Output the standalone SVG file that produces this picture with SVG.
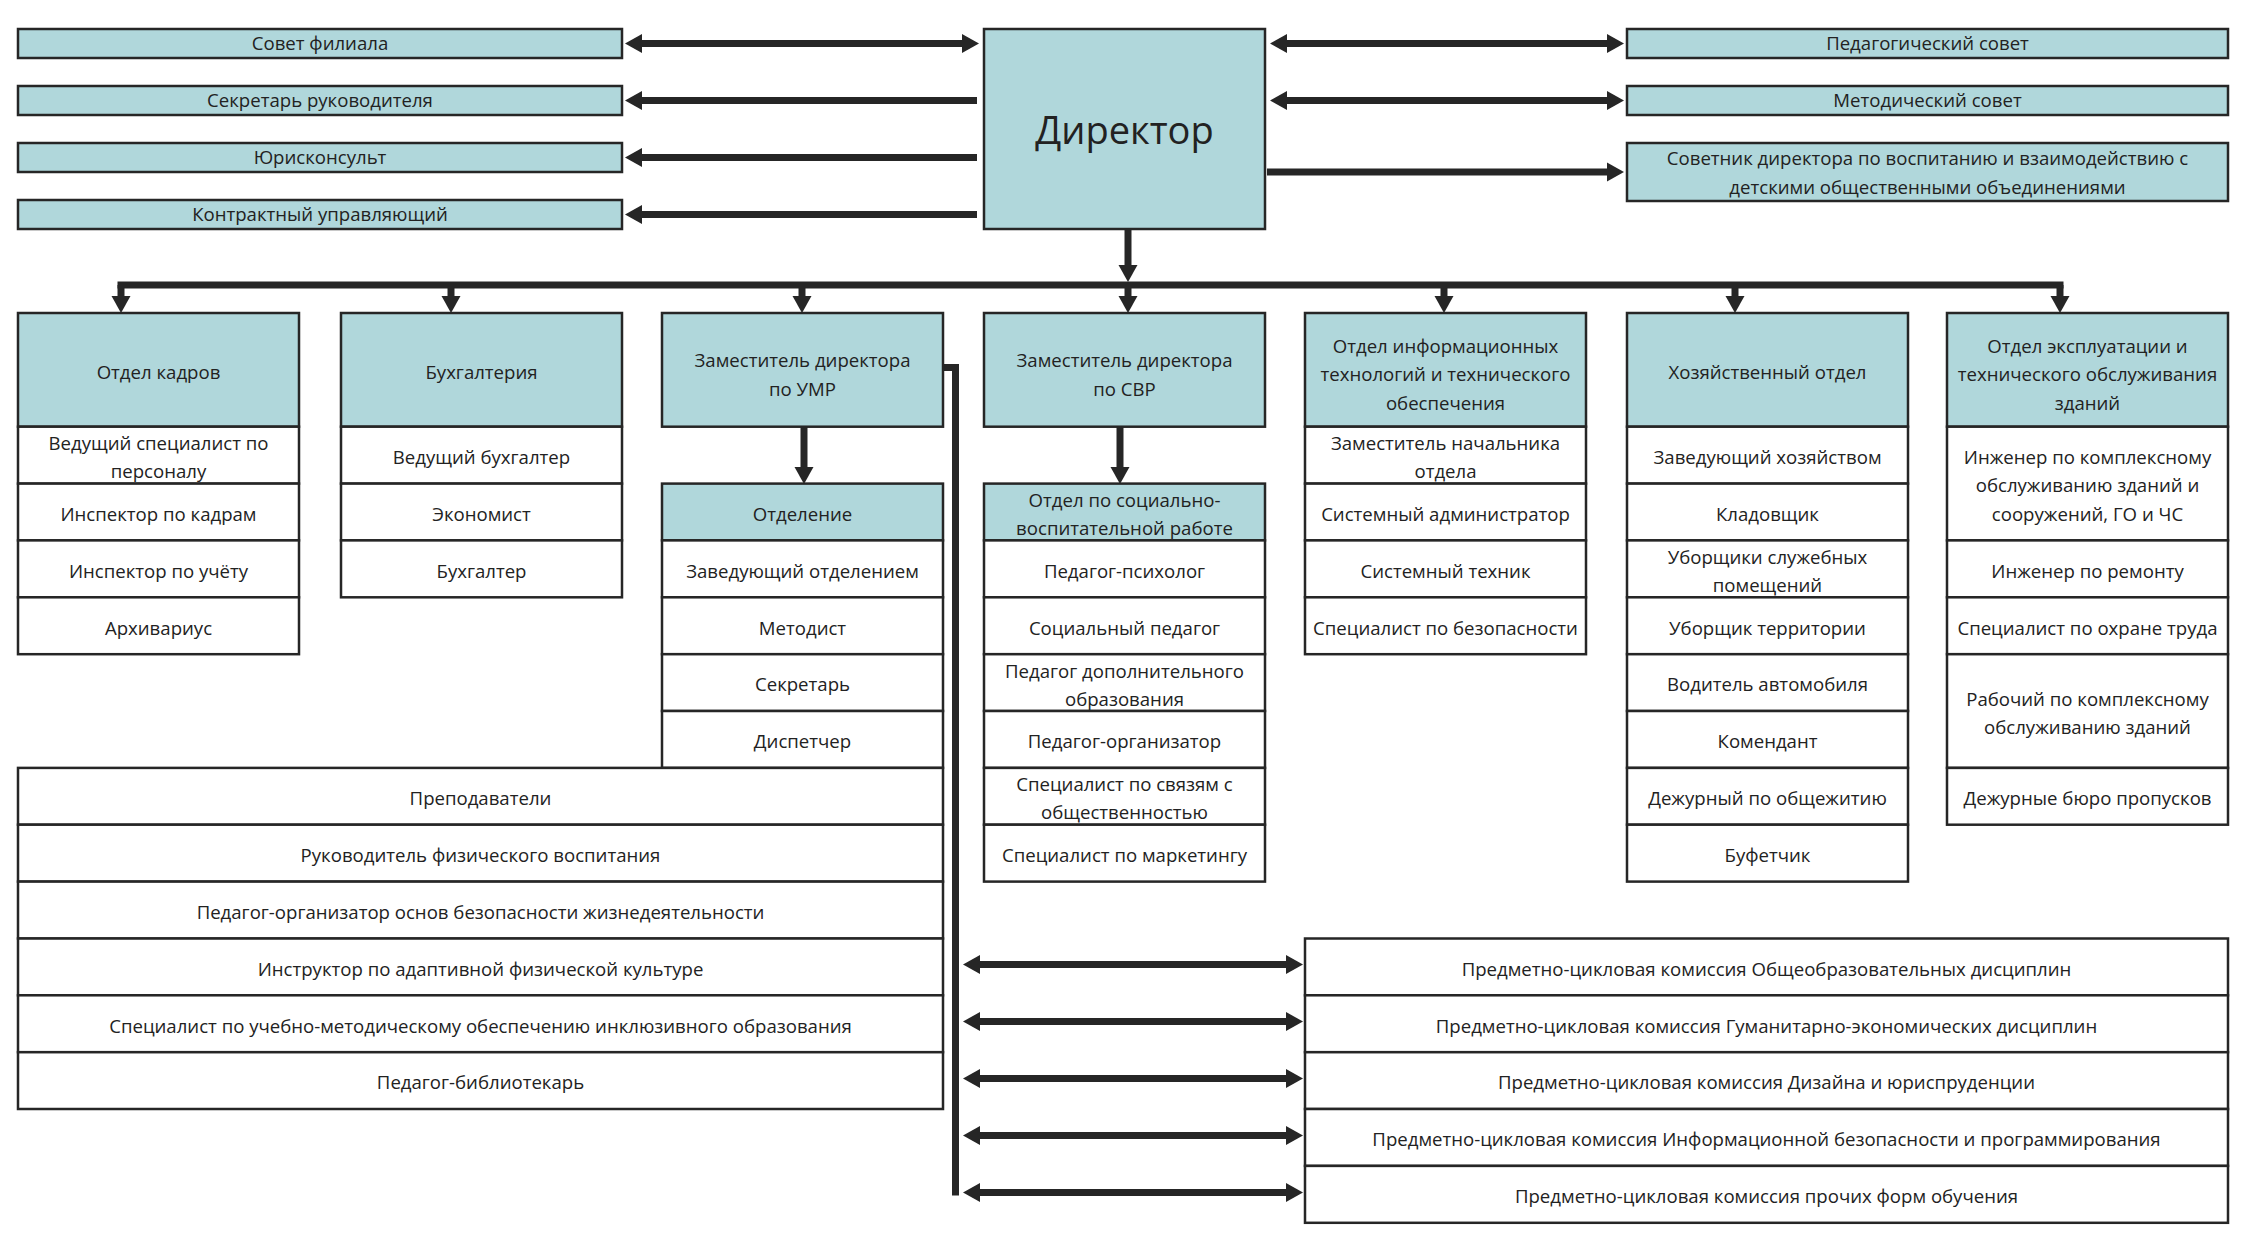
<svg xmlns="http://www.w3.org/2000/svg" width="2250" height="1248" viewBox="0 0 2250 1248">
<style>
.b{fill:#ffffff;stroke:#262626;stroke-width:2.5}
.h{fill:#b0d7db;stroke:#262626;stroke-width:2.5}
.t{font-family:"Open Sans","Liberation Sans",sans-serif;font-size:18.6px;fill:#222;text-anchor:middle}
.big{font-size:38px}
.c{stroke:#262626;stroke-width:7;fill:none}
</style>
<defs>
<marker id="ah" markerUnits="userSpaceOnUse" markerWidth="18" markerHeight="20" viewBox="0 -10 18 20" refX="0" refY="0" orient="auto-start-reverse">
<path d="M0,-9.5 L17,0 L0,9.5 Z" fill="#262626"/>
</marker>
</defs>
<rect width="2250" height="1248" fill="#ffffff"/>

<g id="connectors">
<line class="c" x1="642" y1="43.5" x2="962" y2="43.5" marker-start="url(#ah)" marker-end="url(#ah)"/>
<line class="c" x1="977" y1="100.5" x2="642" y2="100.5" marker-end="url(#ah)"/>
<line class="c" x1="977" y1="157.5" x2="642" y2="157.5" marker-end="url(#ah)"/>
<line class="c" x1="977" y1="214.5" x2="642" y2="214.5" marker-end="url(#ah)"/>
<line class="c" x1="1287" y1="43.5" x2="1607" y2="43.5" marker-start="url(#ah)" marker-end="url(#ah)"/>
<line class="c" x1="1287" y1="100.5" x2="1607" y2="100.5" marker-start="url(#ah)" marker-end="url(#ah)"/>
<line class="c" x1="1267" y1="172" x2="1607" y2="172" marker-end="url(#ah)"/>
<line class="c" x1="1128" y1="229" x2="1128" y2="265" marker-end="url(#ah)"/>
<line class="c" x1="117.5" y1="285" x2="2063.5" y2="285"/>
<line class="c" x1="121" y1="285" x2="121" y2="296" marker-end="url(#ah)"/>
<line class="c" x1="451" y1="285" x2="451" y2="296" marker-end="url(#ah)"/>
<line class="c" x1="802" y1="285" x2="802" y2="296" marker-end="url(#ah)"/>
<line class="c" x1="1128" y1="285" x2="1128" y2="296" marker-end="url(#ah)"/>
<line class="c" x1="1444" y1="285" x2="1444" y2="296" marker-end="url(#ah)"/>
<line class="c" x1="1735" y1="285" x2="1735" y2="296" marker-end="url(#ah)"/>
<line class="c" x1="2060" y1="285" x2="2060" y2="296" marker-end="url(#ah)"/>
<line class="c" x1="804" y1="427" x2="804" y2="467" marker-end="url(#ah)"/>
<line class="c" x1="1120" y1="427" x2="1120" y2="467" marker-end="url(#ah)"/>
<path class="c" d="M943,367.5 H955.5 V1195.5"/>
<line class="c" x1="980" y1="964.5" x2="1286" y2="964.5" marker-start="url(#ah)" marker-end="url(#ah)"/>
<line class="c" x1="980" y1="1021.5" x2="1286" y2="1021.5" marker-start="url(#ah)" marker-end="url(#ah)"/>
<line class="c" x1="980" y1="1078.5" x2="1286" y2="1078.5" marker-start="url(#ah)" marker-end="url(#ah)"/>
<line class="c" x1="980" y1="1135.5" x2="1286" y2="1135.5" marker-start="url(#ah)" marker-end="url(#ah)"/>
<line class="c" x1="980" y1="1192.5" x2="1286" y2="1192.5" marker-start="url(#ah)" marker-end="url(#ah)"/>
</g>

<!-- top left -->
<g id="sovet-filiala"><rect class="h" x="18" y="29" width="604" height="29"/><text class="t" x="320" y="50">Совет филиала</text></g>
<g id="sekretar-ruk"><rect class="h" x="18" y="86" width="604" height="29"/><text class="t" x="320" y="107">Секретарь руководителя</text></g>
<g id="yuriskonsult"><rect class="h" x="18" y="143" width="604" height="29"/><text class="t" x="320" y="164">Юрисконсульт</text></g>
<g id="kontraktny"><rect class="h" x="18" y="200" width="604" height="29"/><text class="t" x="320" y="221">Контрактный управляющий</text></g>

<g id="direktor"><rect class="h" x="984" y="29" width="281" height="200"/><text class="t big" x="1124.5" y="144">Директор</text></g>

<!-- top right -->
<g id="ped-sovet"><rect class="h" x="1627" y="29" width="601" height="29"/><text class="t" x="1927.5" y="50">Педагогический совет</text></g>
<g id="met-sovet"><rect class="h" x="1627" y="86" width="601" height="29"/><text class="t" x="1927.5" y="107">Методический совет</text></g>
<g id="sovetnik"><rect class="h" x="1627" y="143" width="601" height="58"/><text class="t" x="1927.5" y="165">Советник директора по воспитанию и взаимодействию с</text><text class="t" x="1927.5" y="194">детскими общественными объединениями</text></g>

<!-- column 1 -->
<g id="otdel-kadrov"><rect class="h" x="18" y="313" width="281" height="113.7"/><text class="t" x="158.5" y="378.5">Отдел кадров</text></g>
<g id="k1"><rect class="b" x="18" y="426.7" width="281" height="56.9"/><text class="t" x="158.5" y="449.5">Ведущий специалист по</text><text class="t" x="158.5" y="477.5">персоналу</text></g>
<g id="k2"><rect class="b" x="18" y="483.6" width="281" height="56.8"/><text class="t" x="158.5" y="520.5">Инспектор по кадрам</text></g>
<g id="k3"><rect class="b" x="18" y="540.4" width="281" height="56.9"/><text class="t" x="158.5" y="577.5">Инспектор по учёту</text></g>
<g id="k4"><rect class="b" x="18" y="597.3" width="281" height="56.9"/><text class="t" x="158.5" y="634.5">Архивариус</text></g>

<!-- column 2 -->
<g id="buhgalteriya"><rect class="h" x="341" y="313" width="281" height="113.7"/><text class="t" x="481.5" y="378.5">Бухгалтерия</text></g>
<g id="b1"><rect class="b" x="341" y="426.7" width="281" height="56.9"/><text class="t" x="481.5" y="463.5">Ведущий бухгалтер</text></g>
<g id="b2"><rect class="b" x="341" y="483.6" width="281" height="56.8"/><text class="t" x="481.5" y="520.5">Экономист</text></g>
<g id="b3"><rect class="b" x="341" y="540.4" width="281" height="56.9"/><text class="t" x="481.5" y="577.5">Бухгалтер</text></g>

<!-- column 3 -->
<g id="zam-umr"><rect class="h" x="662" y="313" width="281" height="113.7"/><text class="t" x="802.5" y="366.5">Заместитель директора</text><text class="t" x="802.5" y="395.5">по УМР</text></g>
<g id="otdelenie"><rect class="h" x="662" y="483.6" width="281" height="56.8"/><text class="t" x="802.5" y="520.5">Отделение</text></g>
<g id="u1"><rect class="b" x="662" y="540.4" width="281" height="56.9"/><text class="t" x="802.5" y="577.5">Заведующий отделением</text></g>
<g id="u2"><rect class="b" x="662" y="597.3" width="281" height="56.9"/><text class="t" x="802.5" y="634.5">Методист</text></g>
<g id="u3"><rect class="b" x="662" y="654.2" width="281" height="56.8"/><text class="t" x="802.5" y="691">Секретарь</text></g>
<g id="u4"><rect class="b" x="662" y="711" width="281" height="56.9"/><text class="t" x="802.5" y="748">Диспетчер</text></g>
<g id="w1"><rect class="b" x="18" y="767.9" width="925" height="56.8"/><text class="t" x="480.5" y="804.5">Преподаватели</text></g>
<g id="w2"><rect class="b" x="18" y="824.7" width="925" height="56.9"/><text class="t" x="480.5" y="861.5">Руководитель физического воспитания</text></g>
<g id="w3"><rect class="b" x="18" y="881.6" width="925" height="56.9"/><text class="t" x="480.5" y="918.5">Педагог-организатор основ безопасности жизнедеятельности</text></g>
<g id="w4"><rect class="b" x="18" y="938.5" width="925" height="56.8"/><text class="t" x="480.5" y="975.5">Инструктор по адаптивной физической культуре</text></g>
<g id="w5"><rect class="b" x="18" y="995.3" width="925" height="56.9"/><text class="t" x="480.5" y="1032.5">Специалист по учебно-методическому обеспечению инклюзивного образования</text></g>
<g id="w6"><rect class="b" x="18" y="1052.2" width="925" height="56.8"/><text class="t" x="480.5" y="1089">Педагог-библиотекарь</text></g>

<!-- column 4 -->
<g id="zam-svr"><rect class="h" x="984" y="313" width="281" height="113.7"/><text class="t" x="1124.5" y="366.5">Заместитель директора</text><text class="t" x="1124.5" y="395.5">по СВР</text></g>
<g id="otdel-svr"><rect class="h" x="984" y="483.6" width="281" height="56.8"/><text class="t" x="1124.5" y="506.5">Отдел по социально-</text><text class="t" x="1124.5" y="534.5">воспитательной работе</text></g>
<g id="s1"><rect class="b" x="984" y="540.4" width="281" height="56.9"/><text class="t" x="1124.5" y="577.5">Педагог-психолог</text></g>
<g id="s2"><rect class="b" x="984" y="597.3" width="281" height="56.9"/><text class="t" x="1124.5" y="634.5">Социальный педагог</text></g>
<g id="s3"><rect class="b" x="984" y="654.2" width="281" height="56.8"/><text class="t" x="1124.5" y="677.5">Педагог дополнительного</text><text class="t" x="1124.5" y="705.5">образования</text></g>
<g id="s4"><rect class="b" x="984" y="711" width="281" height="56.9"/><text class="t" x="1124.5" y="748">Педагог-организатор</text></g>
<g id="s5"><rect class="b" x="984" y="767.9" width="281" height="56.8"/><text class="t" x="1124.5" y="790.5">Специалист по связям с</text><text class="t" x="1124.5" y="818.5">общественностью</text></g>
<g id="s6"><rect class="b" x="984" y="824.7" width="281" height="56.9"/><text class="t" x="1124.5" y="861.5">Специалист по маркетингу</text></g>

<!-- column 5 -->
<g id="otdel-it"><rect class="h" x="1305" y="313" width="281" height="113.7"/><text class="t" x="1445.5" y="352.5">Отдел информационных</text><text class="t" x="1445.5" y="381">технологий и технического</text><text class="t" x="1445.5" y="409.5">обеспечения</text></g>
<g id="i1"><rect class="b" x="1305" y="426.7" width="281" height="56.9"/><text class="t" x="1445.5" y="449.5">Заместитель начальника</text><text class="t" x="1445.5" y="477.5">отдела</text></g>
<g id="i2"><rect class="b" x="1305" y="483.6" width="281" height="56.8"/><text class="t" x="1445.5" y="520.5">Системный администратор</text></g>
<g id="i3"><rect class="b" x="1305" y="540.4" width="281" height="56.9"/><text class="t" x="1445.5" y="577.5">Системный техник</text></g>
<g id="i4"><rect class="b" x="1305" y="597.3" width="281" height="56.9"/><text class="t" x="1445.5" y="634.5">Специалист по безопасности</text></g>

<!-- column 6 -->
<g id="hoz-otdel"><rect class="h" x="1627" y="313" width="281" height="113.7"/><text class="t" x="1767.5" y="378.5">Хозяйственный отдел</text></g>
<g id="h1"><rect class="b" x="1627" y="426.7" width="281" height="56.9"/><text class="t" x="1767.5" y="463.5">Заведующий хозяйством</text></g>
<g id="h2"><rect class="b" x="1627" y="483.6" width="281" height="56.8"/><text class="t" x="1767.5" y="520.5">Кладовщик</text></g>
<g id="h3"><rect class="b" x="1627" y="540.4" width="281" height="56.9"/><text class="t" x="1767.5" y="563.5">Уборщики служебных</text><text class="t" x="1767.5" y="591.5">помещений</text></g>
<g id="h4"><rect class="b" x="1627" y="597.3" width="281" height="56.9"/><text class="t" x="1767.5" y="634.5">Уборщик территории</text></g>
<g id="h5"><rect class="b" x="1627" y="654.2" width="281" height="56.8"/><text class="t" x="1767.5" y="691">Водитель автомобиля</text></g>
<g id="h6"><rect class="b" x="1627" y="711" width="281" height="56.9"/><text class="t" x="1767.5" y="748">Комендант</text></g>
<g id="h7"><rect class="b" x="1627" y="767.9" width="281" height="56.8"/><text class="t" x="1767.5" y="804.5">Дежурный по общежитию</text></g>
<g id="h8"><rect class="b" x="1627" y="824.7" width="281" height="56.9"/><text class="t" x="1767.5" y="861.5">Буфетчик</text></g>

<!-- column 7 -->
<g id="otdel-expl"><rect class="h" x="1947" y="313" width="281" height="113.7"/><text class="t" x="2087.5" y="352.5">Отдел эксплуатации и</text><text class="t" x="2087.5" y="381">технического обслуживания</text><text class="t" x="2087.5" y="409.5">зданий</text></g>
<g id="e1"><rect class="b" x="1947" y="426.7" width="281" height="113.7"/><text class="t" x="2087.5" y="463.5">Инженер по комплексному</text><text class="t" x="2087.5" y="492">обслуживанию зданий и</text><text class="t" x="2087.5" y="520.5">сооружений, ГО и ЧС</text></g>
<g id="e2"><rect class="b" x="1947" y="540.4" width="281" height="56.9"/><text class="t" x="2087.5" y="577.5">Инженер по ремонту</text></g>
<g id="e3"><rect class="b" x="1947" y="597.3" width="281" height="56.9"/><text class="t" x="2087.5" y="634.5">Специалист по охране труда</text></g>
<g id="e4"><rect class="b" x="1947" y="654.2" width="281" height="113.7"/><text class="t" x="2087.5" y="705.5">Рабочий по комплексному</text><text class="t" x="2087.5" y="733.5">обслуживанию зданий</text></g>
<g id="e5"><rect class="b" x="1947" y="767.9" width="281" height="56.8"/><text class="t" x="2087.5" y="804.5">Дежурные бюро пропусков</text></g>

<!-- commissions -->
<g id="pck1"><rect class="b" x="1305" y="938.5" width="923" height="56.8"/><text class="t" x="1766.5" y="975.5">Предметно-цикловая комиссия Общеобразовательных дисциплин</text></g>
<g id="pck2"><rect class="b" x="1305" y="995.3" width="923" height="56.9"/><text class="t" x="1766.5" y="1032.5">Предметно-цикловая комиссия Гуманитарно-экономических дисциплин</text></g>
<g id="pck3"><rect class="b" x="1305" y="1052.2" width="923" height="56.8"/><text class="t" x="1766.5" y="1089">Предметно-цикловая комиссия Дизайна и юриспруденции</text></g>
<g id="pck4"><rect class="b" x="1305" y="1109" width="923" height="56.9"/><text class="t" x="1766.5" y="1146">Предметно-цикловая комиссия Информационной безопасности и программирования</text></g>
<g id="pck5"><rect class="b" x="1305" y="1165.9" width="923" height="56.9"/><text class="t" x="1766.5" y="1203">Предметно-цикловая комиссия прочих форм обучения</text></g>
</svg>
